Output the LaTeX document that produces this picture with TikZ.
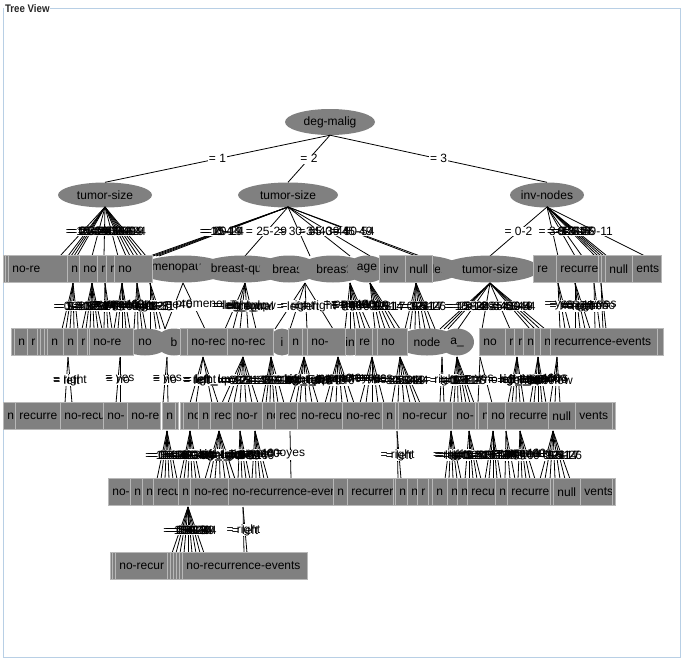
\documentclass[tikz,border=0pt]{standalone}
\usepackage{fontspec}
\setmainfont{Liberation Sans}
\usetikzlibrary{shapes.geometric}
\definecolor{ngray}{RGB}{128,128,128}
\definecolor{bline}{RGB}{184,184,184}
\definecolor{fblue}{RGB}{184,207,229}
\newcommand\lfont{\fontsize{12}{14}\selectfont}
\newcommand\fanpass{}
\newcommand\allfans{%
\fanpass{aa}{105}{207}{256}{60/= 0-4,68/= 10-14,71/= 15-19,74/= 20-24,77/= 25-29,92/= 30-34,104/= 35-39,118/= 40-44,126/= 45-49,130/= 5-9,134/= 50-54,138/= 10-14,142/= 15-19,146/= 20-24}%
\fanpass{ab}{288}{207}{256}{150/= 0-4,153/= 10-14,156/= 15-19,159/= 20-24,245/= 25-29,310/= 30-34,350/= 35-39,370/= 40-44,416/= 45-49,420/= 50-54}%
\fanpass{ac}{547}{207}{256}{490/= 0-2,558/= 3-5,575/= 6-8,582/= 9-11,595/= 12-14,598/= 15-17,601/= 24-26,604/= 3-5,607/= 6-8,645/= 9-11}%
\fanpass{ba}{73}{283}{329}{62/= 0-2,66/= 3-5,70/= 6-8,74/= 9-11,78/= 12-14}%
\fanpass{bb}{92}{283}{329}{82/= 0-2,86/= 3-5,90/= 6-8,94/= 9-11,98/= 12-14,102/= 15-17}%
\fanpass{bc}{105}{283}{329}{104/= yes,108/= no,112/= yes}%
\fanpass{bd}{122}{283}{329}{114/= lt40,118/= ge40,122/= premeno,126/= lt40,130/= ge40}%
\fanpass{be}{137}{283}{329}{134/= left,138/= right,142/= left,146/= right}%
\fanpass{bf}{150}{283}{329}{150/= 0-2,156/= 3-5,160/= 6-8,165/= 9-11}%
\fanpass{bg}{183}{283}{329}{165/= ge40,205/= premeno}%
\fanpass{bh}{245}{283}{329}{225/= left\_up,233/= left\_low,240/= right\_up,248/= right\_low,256/= central}%
\fanpass{bi}{305}{283}{329}{275/= left,290/= right,307/= left,333/= right}%
\fanpass{bj}{350}{283}{329}{345/= lt40,350/= ge40,355/= premeno,360/= lt40,365/= ge40,370/= premeno}%
\fanpass{bk}{370}{283}{329}{375/= 0-2,380/= 3-5,385/= 6-8,390/= 9-11,395/= 12-14,400/= 15-17}%
\fanpass{bl}{416}{283}{329}{405/= 0-2,410/= 3-5,415/= 6-8,420/= 9-11,425/= 12-14,430/= 15-17,435/= 24-26}%
\fanpass{bm}{490}{283}{329}{440/= 10-14,444/= 15-19,448/= 20-24,458/= 25-29,482/= 30-34,510/= 35-39,530/= 40-44,535/= 45-49,540/= 50-54,545/= 0-4}%
\fanpass{bn}{558}{283}{329}{560/= yes,565/= no,570/= yes}%
\fanpass{bo}{575}{283}{329}{575/= left,580/= right,585/= left,590/= right}%
\fanpass{bp}{594}{283}{329}{595/= yes,600/= no}%
\fanpass{bq}{601}{283}{329}{603/= yes,606/= no}%
\fanpass{ca}{68}{357}{403}{65/= left,72/= right}%
\fanpass{cb}{120}{357}{403}{116/= no,120/= yes}%
\fanpass{cc}{167}{357}{403}{163/= no,168/= yes}%
\fanpass{cd}{203}{357}{403}{190/= left,196/= right,212/= left\_up,218/= left\_low}%
\fanpass{ce}{243}{357}{403}{222/= 0-2,228/= 3-5,234/= 6-8,240/= 9-11,246/= 12-14,252/= 15-17,258/= 24-26}%
\fanpass{cf}{271}{357}{403}{262/= 0-4,266/= 5-9,270/= 10-14,274/= 15-19,278/= 20-24,284/= 25-29}%
\fanpass{cg}{304}{357}{403}{290/= left\_up,296/= left\_low,300/= right\_up,306/= right\_low,312/= central,318/= left}%
\fanpass{ch}{338}{357}{403}{325/= lt40,330/= ge40,336/= premeno,342/= lt40,348/= ge40,354/= premeno}%
\fanpass{ci}{372}{357}{403}{360/= yes,366/= no,372/= yes,378/= no,384/= yes}%
\fanpass{cj}{400}{357}{403}{392/= 30-34,398/= 35-39,404/= 40-44,410/= 45-49,416/= 50-54,420/= 0-4}%
\fanpass{ck}{442}{357}{403}{440/= right,444/= left}%
\fanpass{cl}{457}{357}{403}{450/= 0-2,454/= 3-5,458/= 6-8,462/= 9-11,466/= 12-14,470/= 15-17,474/= 24-26}%
\fanpass{cm}{480}{357}{403}{478/= yes,492/= no}%
\fanpass{cn}{517}{357}{403}{508/= left\_up,512/= left\_low,516/= right\_up,520/= right\_low,524/= central}%
\fanpass{co}{538}{357}{403}{530/= lt40,534/= ge40,538/= premeno,542/= lt40,546/= ge40}%
\fanpass{cp}{557}{357}{403}{550/= yes,555/= no,560/= low}%
\fanpass{da}{167}{431}{479}{157/= 0-4,161/= 5-9,165/= 10-14,169/= 15-19,173/= 20-24,177/= 25-29}%
\fanpass{db}{190}{431}{479}{180/= 30-34,184/= 35-39,188/= 40-44,192/= 45-49,196/= 50-54,200/= 0-4}%
\fanpass{dc}{219}{431}{479}{205/= left\_up,210/= left\_low,215/= right\_up,220/= right\_low,225/= central,230/= left,235/= right}%
\fanpass{dd}{240}{431}{479}{238/= 0-2,242/= 3-5,246/= 6-8,250/= 9-11}%
\fanpass{de}{255}{431}{479}{252/= lt40,256/= ge40,260/= premeno,264/= lt40,268/= ge40}%
\fanpass{df}{290}{431}{479}{291/= yes}%
\fanpass{dg}{397}{431}{479}{398/= right,401/= left}%
\fanpass{dh}{451}{431}{479}{445/= left,449/= right,453/= left,457/= right,461/= left}%
\fanpass{di}{469}{431}{479}{465/= 0-2,469/= 3-5,473/= 6-8,477/= 9-11,481/= 12-14}%
\fanpass{dj}{493}{431}{479}{485/= 10-14,489/= 15-19,493/= 20-24,497/= 25-29,501/= 30-34}%
\fanpass{dk}{506}{431}{479}{505/= yes,510/= no,515/= yes}%
\fanpass{dl}{520}{431}{479}{518/= lt40,522/= ge40,526/= premeno,530/= lt40,535/= ge40}%
\fanpass{dm}{553}{431}{479}{540/= 0-2,545/= 3-5,550/= 6-8,555/= 9-11,560/= 12-14,565/= 15-17,570/= 24-26}%
\fanpass{ea}{188}{507}{553}{172/= 0-4,176/= 5-9,180/= 10-14,184/= 15-19,188/= 20-24,192/= 25-29,196/= 30-34,200/= 35-39,204/= 40-44}%
\fanpass{eb}{243}{507}{553}{244/= right,247/= left}%
}
\newcommand\boxrow[3]{\foreach \xa/\xb/\tx [count=\i] in {#2}{\pgfmathsetmacro\bw{\xb-\xa}\node[leafbox, text width=\bw pt] (#3-\i) at (\xa,#1) {\hspace*{4pt}\mbox{\tx}};}}
\newcommand\ellrow[3]{\foreach \cx/\ew/\tx [count=\i] in {#2}{\node[ell, minimum width=\ew pt, minimum height=27pt] (#3-\i) at (\cx,#1) {\tx};}}
\begin{document}
\begin{tikzpicture}[x=1pt,y=-1pt,
  edge/.style={draw=black, line width=0.8pt},
  elab/.style={font=\lfont, inner sep=0.6pt},
  ell/.style={ellipse, fill=ngray, inner sep=0pt, font=\lfont},
  leafbox/.style={rectangle, fill=ngray, draw=bline, line width=0.8pt, minimum height=27pt, inner xsep=0pt, inner ysep=0pt, anchor=west, align=left, font=\lfont}]
\useasboundingbox (0,0) rectangle (684,661);
\fill[white] (0,0) rectangle (684,661);
\draw[fblue, line width=1pt] (3.5,8.5) rectangle (680.5,657.5);
% top levels
\node[ell, minimum width=90pt, minimum height=26pt] (root) at (330,122) {deg-malig};
\node[ell, minimum width=94pt, minimum height=25pt] (ts1) at (105,195) {tumor-size};
\node[ell, minimum width=100pt, minimum height=25pt] (ts2) at (288,195) {tumor-size};
\node[ell, minimum width=74pt, minimum height=25pt] (inv) at (547,195) {inv-nodes};
\draw[edge] (root.south) -- node[elab, fill=white] (l1) {= 1} (ts1.north);
\draw[edge] (root.south) -- node[elab, fill=white] (l2) {= 2} (ts2.north);
\draw[edge] (root.south) -- node[elab, fill=white] (l3) {= 3} (inv.north);
% fans: edges, label covers, labels
\renewcommand\fanpass[5]{\foreach \cx/\tx in {#5}{\draw[edge] (#2,#3) -- (\cx,#4);}}
\allfans
\renewcommand\fanpass[5]{\foreach \cx/\tx [count=\i] in {#5}{\node[elab, fill=white] (w#1\i) at ({(#2+\cx)/2},{(#3+#4)/2}) {\phantom{\tx}};}}
\allfans
\renewcommand\fanpass[5]{\foreach \cx/\tx [count=\i] in {#5}{\node[elab] (t#1\i) at ({(#2+\cx)/2},{(#3+#4)/2}) {\tx};}}
\allfans
% row 1
\ellrow{269}{183/90/menopause,243/90/breast-quad,289/60/breast,333/70/breast,367/40/age,421/80/inv-nodes,490/100/tumor-size}{ea}
\boxrow{269}{3/5/{},5/8/{},8/67/no-re,67/79/n,79/97/no,97/106/r,106/114/r,114/152/no,379/405/inv,405/432/null,533/556/re,556/598/recurre,598/601/{},601/605/{},605/632/null,632/661/ents}{ba}
% row 2
\ellrow{342}{145/50/no,174/36/b,282/26/i,350/30/in,427/64/node,457/34/a\_}{eb}
\boxrow{342}{11/14/{},14/27/n,27/37/r,37/40/{},40/44/{},44/47/{},47/63/n,63/77/n,77/87/r,87/89/{},89/133/no-re,180/187/{},187/227/no-rec,227/273/no-rec,288/302/n,302/307/{},307/345/no-,355/372/re,372/377/{},377/407/no,479/505/no,505/514/r,514/523/r,523/534/n,534/540/{},540/550/n,550/657/recurrence-events,657/663/{}}{bb}
% row 3
\boxrow{416}{3/15/n,15/60/recurre,60/103/no-recu,103/127/no-,127/160/no-re,162/175/n,175/178/{},180/183/{},183/198/no,198/210/n,210/232/rec,232/262/no-r,262/275/no,275/297/rec,297/342/no-recu,342/382/no-rec,382/395/n,395/398/{},398/452/no-recur,452/475/no-,475/478/{},478/487/n,487/505/no,505/548/recurre,548/575/null,575/612/vents,612/615/{}}{bc}
% row 4
\boxrow{492}{108/130/no-,130/142/n,142/153/n,153/178/recu,178/190/n,190/228/no-rec,228/333/no-recurrence-even,333/347/n,347/393/recurrer,393/395/{},395/407/n,407/417/n,417/428/r,428/432/{},432/447/n,447/457/n,457/467/n,467/495/recu,495/507/n,507/550/recurre,550/553/{},553/580/null,580/612/vents,612/615/{}}{bd}
% row 5
\boxrow{566}{110/112/{},112/115/{},115/167/no-recur,167/170/{},170/173/{},173/176/{},176/179/{},179/182/{},182/307/no-recurrence-events}{be}
% title
\node[font=\fontsize{11}{13}\selectfont\bfseries, fill=white, inner xsep=1pt, inner ysep=1pt, anchor=west, text=black!85, xscale=0.88] (title) at (4,8.5) {Tree View};
\end{tikzpicture}
\end{document}
